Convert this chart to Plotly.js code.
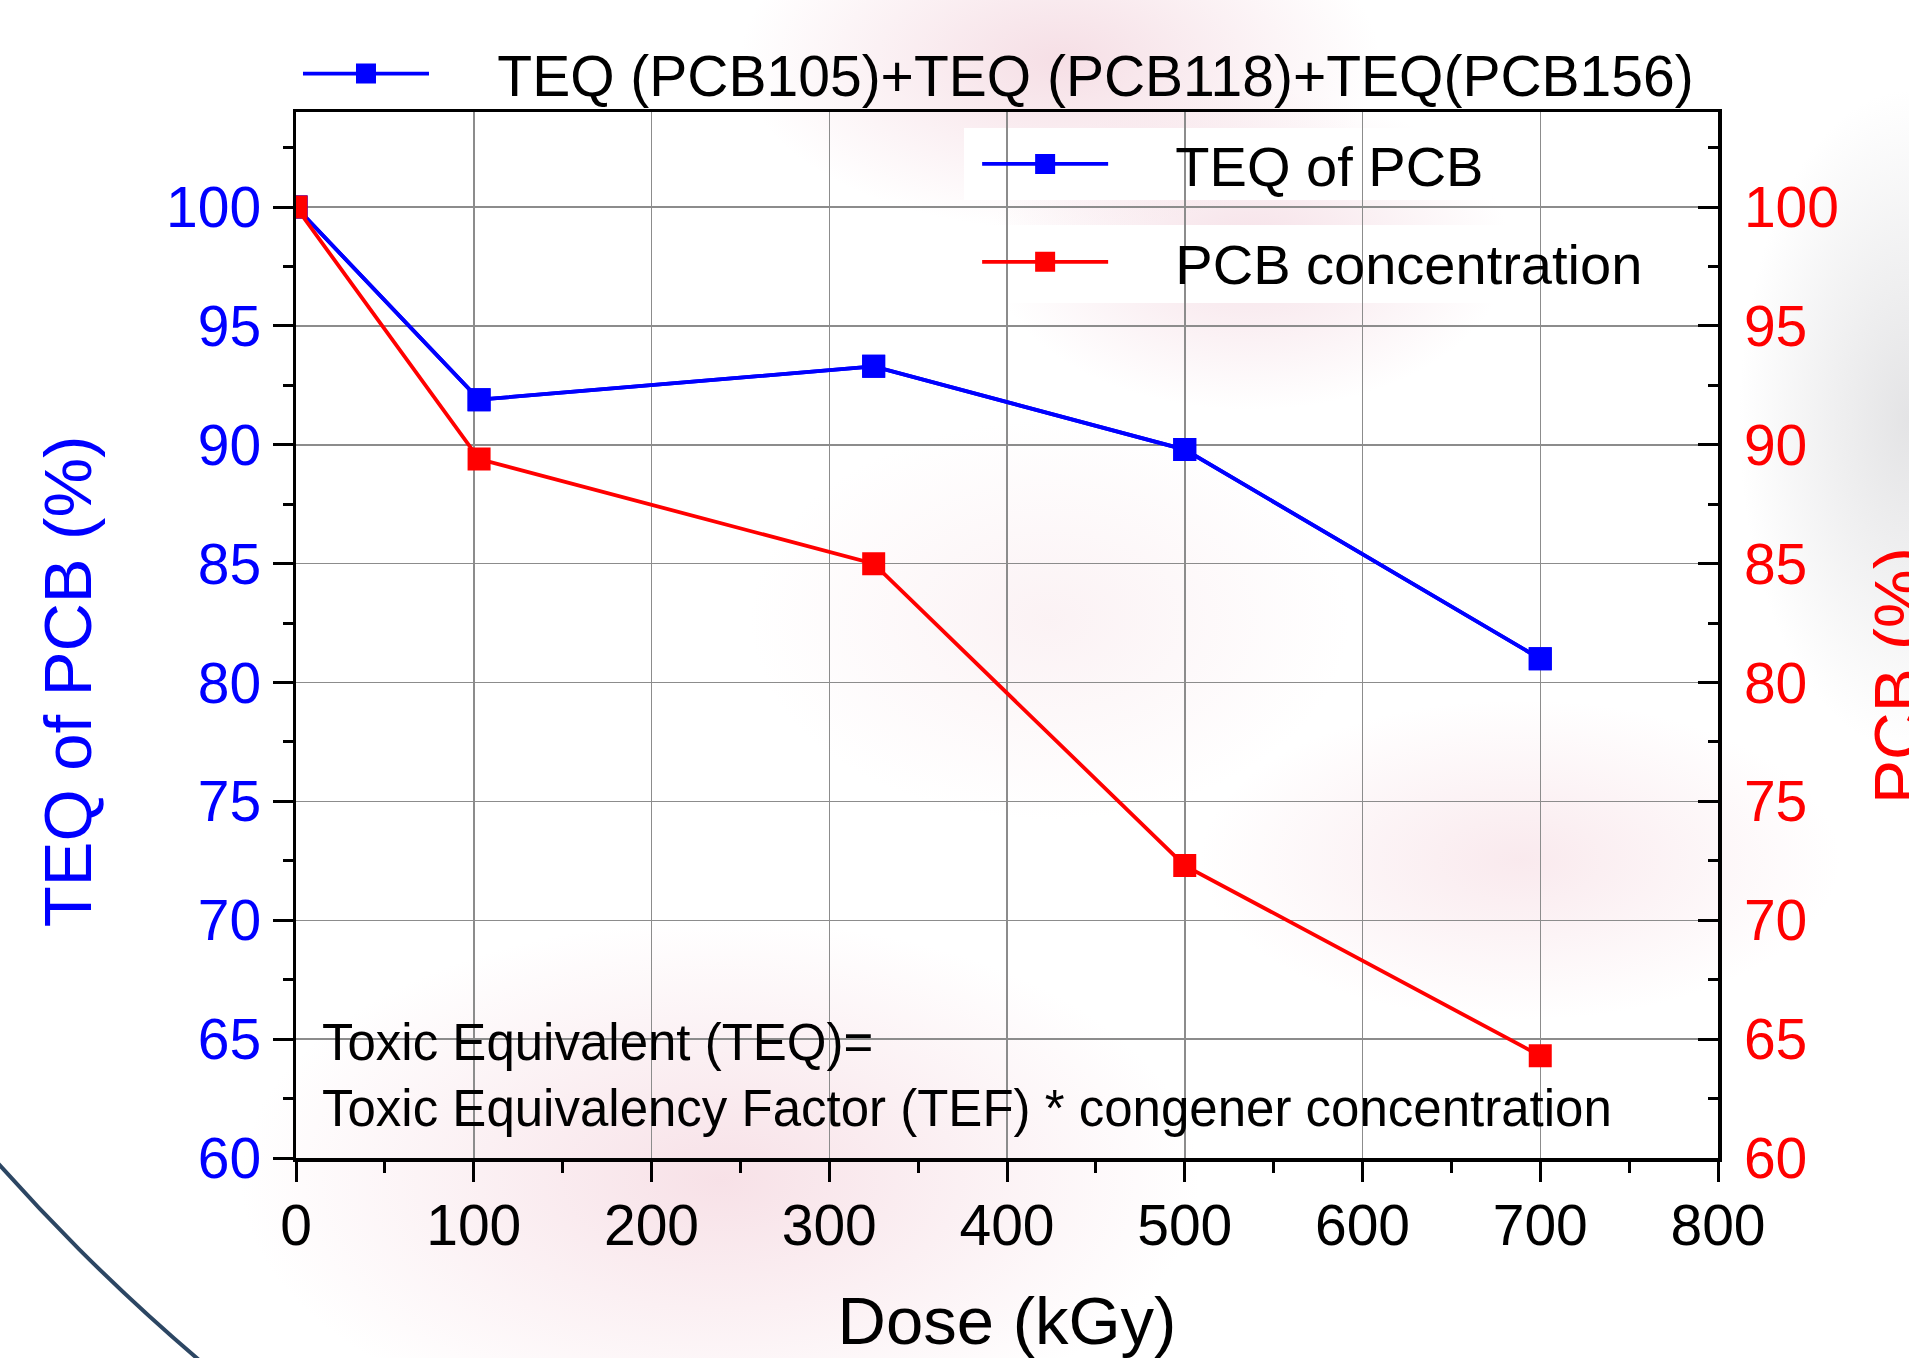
<!DOCTYPE html>
<html>
<head>
<meta charset="utf-8">
<script src="https://cdn.plot.ly/plotly-3.0.1.min.js"></script>
<style>
  html, body { margin: 0; padding: 0; width: 1909px; height: 1358px; overflow: hidden; background: #ffffff; }
  #bg {
    position: absolute; left: 0; top: 0; width: 1909px; height: 1358px; overflow: hidden;
    background:
      radial-gradient(ellipse 320px 170px at 1060px 60px, rgba(238,196,208,0.55), rgba(238,196,208,0) 100%),
      radial-gradient(ellipse 260px 160px at 1250px 250px, rgba(238,200,212,0.55), rgba(238,200,212,0) 100%),
      radial-gradient(ellipse 480px 260px at 720px 1180px, rgba(242,205,215,0.6), rgba(242,205,215,0) 100%),
      radial-gradient(ellipse 320px 160px at 1520px 860px, rgba(244,212,220,0.5), rgba(244,212,220,0) 100%),
      radial-gradient(ellipse 170px 330px at 1909px 420px, rgba(205,205,208,0.55), rgba(205,205,208,0) 100%),
      radial-gradient(ellipse 300px 200px at 1050px 620px, rgba(244,218,224,0.35), rgba(244,218,224,0) 100%),
      #ffffff;
  }
  #arc {
    position: absolute; left: -520px; top: -2232px; width: 4080px; height: 4080px;
    border: 4px solid #2c4663; border-radius: 50%; box-sizing: border-box;
  }
  #chart { position: absolute; left: 0; top: 0; width: 1909px; height: 1358px; }
</style>
</head>
<body>
<div id="bg"><div id="arc"></div></div>
<div id="chart"></div>
<script>
// Data
const dose = [0, 103, 325, 500, 700];
const teqPCB = [100, 91.9, 93.3, 89.8, 81.0];
const pcbConcentration = [100, 89.4, 85.0, 72.3, 64.3];

const nameSum = 'TEQ (PCB105)+TEQ (PCB118)+TEQ(PCB156)';
const nameTeq = 'TEQ of PCB';
const namePcb = 'PCB concentration';

const xTickVals = [0, 100, 200, 300, 400, 500, 600, 700, 800];
const yTickVals = [60, 65, 70, 75, 80, 85, 90, 95, 100];

const FONT = '"Liberation Sans", Arial, Helvetica, sans-serif';
const BLUE = '#0000ff';
const RED = '#ff0000';
const pad = '\u00a0\u00a0\u00a0\u00a0';

const markerStyle = (c) => ({ symbol: 'square', size: 19, color: c, line: { color: c, width: 4 } });

const traces = [
  {
    x: dose, y: teqPCB, name: pad + nameSum, type: 'scatter', mode: 'lines+markers',
    line: { color: BLUE, width: 3.8 }, marker: markerStyle(BLUE),
    xaxis: 'x', yaxis: 'y', legend: 'legend', cliponaxis: true
  },
  {
    x: dose, y: teqPCB, name: pad + nameTeq, type: 'scatter', mode: 'lines+markers',
    line: { color: BLUE, width: 3.8 }, marker: markerStyle(BLUE),
    xaxis: 'x', yaxis: 'y', legend: 'legend2', cliponaxis: true
  },
  {
    x: dose, y: pcbConcentration, name: pad + namePcb, type: 'scatter', mode: 'lines+markers',
    line: { color: RED, width: 3.8 }, marker: markerStyle(RED),
    xaxis: 'x', yaxis: 'y2', legend: 'legend3', cliponaxis: true
  }
];

const legendBase = {
  xanchor: 'left', yanchor: 'middle', bgcolor: 'rgba(0,0,0,0)', borderwidth: 0,
  itemwidth: 126, font: { family: FONT, size: 56, color: '#000000' }, itemclick: false
};

const layout = {
  width: 1909, height: 1358,
  margin: { l: 296, r: 191, t: 112, b: 200, pad: 0 },
  paper_bgcolor: 'rgba(0,0,0,0)',
  plot_bgcolor: 'rgba(0,0,0,0)',
  font: { family: FONT, color: '#000000' },
  showlegend: true,
  legend: Object.assign({}, legendBase, { x: 0.0014, y: 1.0363, font: { family: FONT, size: 57, color: '#000000' } }),
  legend2: Object.assign({}, legendBase, { x: 0.479, y: 0.9503 }),
  legend3: Object.assign({}, legendBase, { x: 0.479, y: 0.8567 }),
  xaxis: {
    range: [0, 800], tickvals: xTickVals, ticktext: xTickVals.map(String),
    ticks: 'outside', ticklen: 20, tickwidth: 3, tickcolor: '#000000',
    ticklabelstandoff: -5,
    tickfont: { family: FONT, size: 57, color: '#000000' },
    showline: true, linewidth: 3.5, linecolor: '#000000', mirror: true,
    showgrid: true, gridcolor: '#8c8c8c', gridwidth: 1.5, zeroline: false,
    minor: { dtick: 50, tick0: 0, ticks: 'outside', ticklen: 11, tickwidth: 3, tickcolor: '#000000', showgrid: false },
    title: { text: 'Dose (kGy)', font: { family: FONT, size: 67, color: '#000000' }, standoff: 46 }
  },
  yaxis: {
    range: [60, 104], tickvals: yTickVals, ticktext: yTickVals.map(String),
    ticks: 'outside', ticklen: 20, tickwidth: 3, tickcolor: '#000000',
    ticklabelstandoff: 0,
    tickfont: { family: FONT, size: 57, color: BLUE },
    showline: true, linewidth: 3.5, linecolor: '#000000', mirror: false,
    showgrid: true, gridcolor: '#8c8c8c', gridwidth: 1.5, zeroline: false,
    minor: { dtick: 2.5, tick0: 0, ticks: 'outside', ticklen: 10, tickwidth: 3, tickcolor: '#000000', showgrid: false }
  },
  yaxis2: {
    overlaying: 'y', side: 'right', anchor: 'x',
    range: [60, 104], tickvals: yTickVals, ticktext: yTickVals.map(String),
    ticks: 'inside', ticklen: 20, tickwidth: 3, tickcolor: '#000000',
    ticklabelstandoff: 11,
    tickfont: { family: FONT, size: 57, color: RED },
    showline: true, linewidth: 3.5, linecolor: '#000000',
    showgrid: false, zeroline: false,
    minor: { dtick: 2.5, tick0: 0, ticks: 'inside', ticklen: 10, tickwidth: 3, tickcolor: '#000000', showgrid: false }
  },
  shapes: [
    { type: 'rect', xref: 'paper', yref: 'paper', x0: 0.4698, x1: 0.8411, y0: 0.9159, y1: 0.9847,
      fillcolor: '#ffffff', line: { width: 0 }, layer: 'between' },
    { type: 'rect', xref: 'paper', yref: 'paper', x0: 0.4494, x1: 0.9775, y0: 0.8174, y1: 0.8920,
      fillcolor: '#ffffff', line: { width: 0 }, layer: 'between' }
  ],
  annotations: [
    { text: 'TEQ of PCB (%)', xref: 'paper', yref: 'paper', x: -0.1610, y: 0.455,
      xanchor: 'center', yanchor: 'middle', textangle: -90, showarrow: false,
      font: { family: FONT, size: 67, color: BLUE } },
    { text: 'PCB (%)', xref: 'paper', yref: 'paper', x: 1.1266, y: 0.4608,
      xanchor: 'center', yanchor: 'middle', textangle: -90, showarrow: false,
      font: { family: FONT, size: 66, color: RED } },
    { text: 'Toxic Equivalent (TEQ)=<br>Toxic Equivalency Factor (TEF) * congener concentration',
      xref: 'paper', yref: 'paper', x: 0.0169, y: 0.0793, xanchor: 'left', yanchor: 'middle',
      align: 'left', showarrow: false, font: { family: FONT, size: 51, color: '#000000' } }
  ]
};

Plotly.newPlot('chart', traces, layout, { displayModeBar: false, staticPlot: true });
</script>
</body>
</html>
